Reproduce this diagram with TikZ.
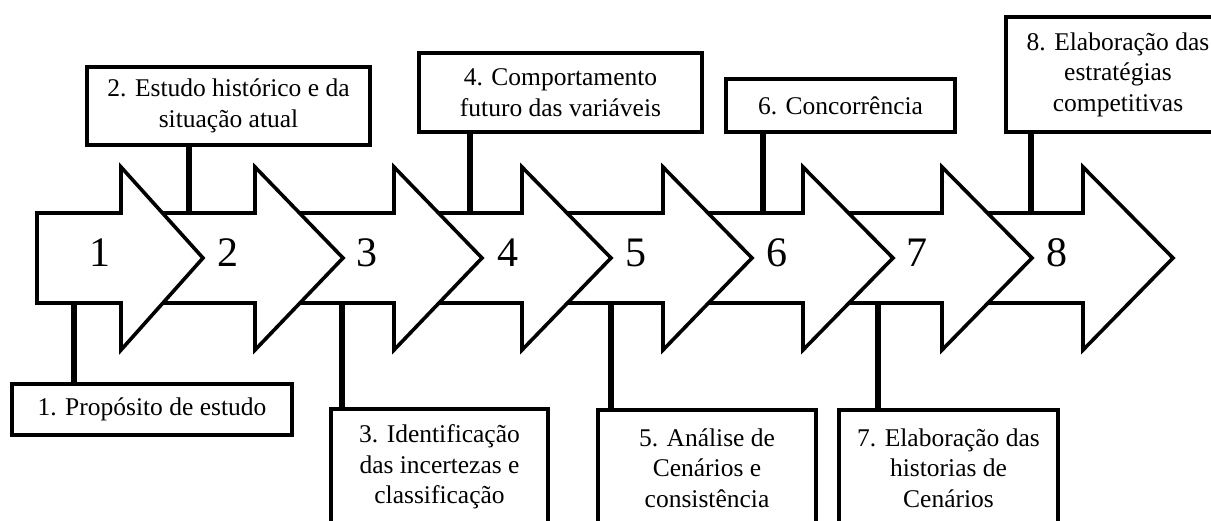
\documentclass[tikz,border=0pt]{standalone}
\usepackage{fontspec}
\setmainfont{Liberation Serif}
\begin{document}
\begin{tikzpicture}[x=1pt,y=-1pt,
  box/.style={draw, line width=4pt, fill=white, align=center, inner sep=0pt,
    font=\fontsize{25.5}{30.5}\selectfont},
  arr/.style={draw, line width=3.6pt, fill=white, line join=miter},
  conn/.style={draw, line width=5.5pt},
  num/.style={font=\fontsize{42}{42}\selectfont, anchor=base, inner sep=0pt}]
\clip (0,0) rectangle (1211,521);
% boxes
\node[box, minimum width=280, minimum height=51] (b1) at (152,409.5) {1. Propósito de estudo};
\node[box, minimum width=283, minimum height=78] (b2) at (228.5,106) {2. Estudo histórico e da\\situação atual};
\node[box, minimum width=217, minimum height=116] (b3) at (439.5,467) {3. Identificação\\das incertezas e\\classificação};
\node[box, minimum width=283, minimum height=79] (b4) at (560.5,92.5) {4. Comportamento\\futuro das variáveis};
\node[box, minimum width=218, minimum height=116] (b5) at (707,468) {5. Análise de\\Cenários e\\consistência};
\node[box, minimum width=229, minimum height=53] (b6) at (840.5,105.5) {6. Concorrência};
\node[box, minimum width=219, minimum height=116] (b7) at (948.5,468) {7. Elaboração das\\historias de\\Cenários};
\node[box, minimum width=224, minimum height=115] (b8) at (1118,74.5) {8. Elaboração das\\estratégias\\competitivas};
% connector ends on the arrow bodies
\coordinate (c1) at (74,303);
\coordinate (c2) at (189,213);
\coordinate (c3) at (342,303);
\coordinate (c4) at (470,213);
\coordinate (c5) at (611,303);
\coordinate (c6) at (763,213);
\coordinate (c7) at (878,303);
\coordinate (c8) at (1031,213);
\draw[conn] (b1.north -| c1) -- (c1);
\draw[conn] (b2.south -| c2) -- (c2);
\draw[conn] (b3.north -| c3) -- (c3);
\draw[conn] (b4.south -| c4) -- (c4);
\draw[conn] (b5.north -| c5) -- (c5);
\draw[conn] (b6.south -| c6) -- (c6);
\draw[conn] (b7.north -| c7) -- (c7);
\draw[conn] (b8.south -| c8) -- (c8);
% arrows, last first
\foreach \xL/\xB/\xT in {947/1083/1173, 808/942/1032, 668/803/893, 527/663/752,
  399/522/611, 260/394/482, 126/255/343, 37/121/203}{
  \draw[arr] (\xL,213) -- (\xB,213) -- (\xB,167) -- (\xT,258) -- (\xB,350)
    -- (\xB,303) -- (\xL,303) -- cycle;
}
% numbers
\node[num] (n1) at (100,267) {1};
\node[num] (n2) at (228,267) {2};
\node[num] (n3) at (367,267) {3};
\node[num] (n4) at (508,267) {4};
\node[num] (n5) at (636,267) {5};
\node[num] (n6) at (777,267) {6};
\node[num] (n7) at (917,267) {7};
\node[num] (n8) at (1057,267) {8};
\end{tikzpicture}
\end{document}
